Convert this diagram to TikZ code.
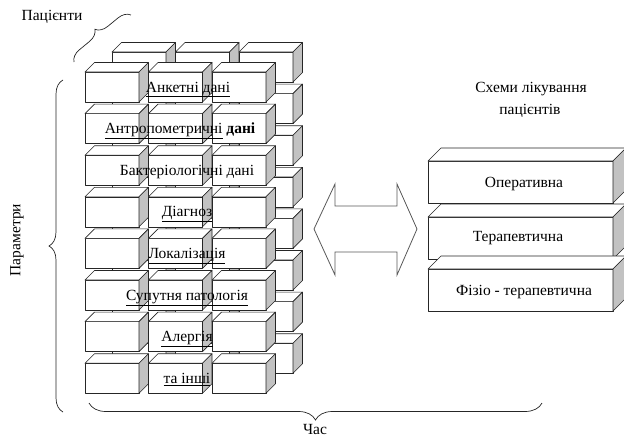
\documentclass[tikz,border=0pt]{standalone}
\usepackage{fontspec}
\setmainfont{Liberation Serif}
\usetikzlibrary{decorations.pathreplacing}

\tikzset{
  face/.style={draw=black!85, line width=0.6pt, line join=round, fill=white},
  sideface/.style={face, fill=black!24},
  lbl/.style={font=\fontsize{15.5}{18}\selectfont, inner sep=0pt, anchor=base},
  brc/.style={draw=black!85, line width=0.7pt, decorate,
              decoration={brace, amplitude=#1}},
  arrowshape/.style={draw=black!65, line width=0.8pt, line join=miter, fill=white},
}

% cuboid: #1,#2 top-left of front face, #3 width, #4 height, #5/#6 depth offsets
\newcommand\cuboid[6]{%
  \draw[face] (#1,#2) rectangle ++(#3,#4);
  \draw[face] (#1,#2) -- ++(#5,-#6) -- ++(#3,0) -- ++(-#5,#6) -- cycle;
  \draw[sideface] (#1+#3,#2) -- ++(#5,-#6) -- ++(0,#4) -- ++(-#5,#6) -- cycle;
}

\begin{document}
\begin{tikzpicture}[x=1pt,y=-1pt]
  \clip (0,0) rectangle (624,439);

  % back layer of the data block
  \foreach \c in {0,1,2} {
    \foreach \r in {0,...,7} {
      \pgfmathsetmacro\xx{112+63.5*\c}
      \pgfmathsetmacro\yy{52+41.6*\r}
      \cuboid{\xx}{\yy}{54}{30}{9.5}{9.5}
    }
  }
  % front layer of the data block
  \foreach \c in {0,1,2} {
    \foreach \r in {0,...,7} {
      \pgfmathsetmacro\xx{85+63.5*\c}
      \pgfmathsetmacro\yy{72+41.6*\r}
      \cuboid{\xx}{\yy}{54}{30}{9.5}{9.5}
    }
  }

  % parameter labels
  \node[lbl] (anket) at (188,92)    {\underline{Анкетні дані}};
  \node[lbl] (antro) at (180,133.5) {\underline{Антропометричні} \textbf{дані}};
  \node[lbl] (bakt)  at (187,175.2) {Бактеріологічні дані};
  \node[lbl] (diag)  at (187,216.8) {\underline{Діагноз}};
  \node[lbl] (lokal) at (187,258.4) {\underline{Локалізація}};
  \node[lbl] (patol) at (187,300)   {\underline{Супутня патологія}};
  \node[lbl] (alerg) at (187,341.6) {\underline{Алергія}};
  \node[lbl] (inshi) at (187,383.2) {\underline{та інші}};

  % treatment schemes
  \cuboid{428}{161}{185}{42}{13}{13}
  \cuboid{428}{217}{185}{42}{13}{13}
  \cuboid{428}{269}{185}{42}{13}{13}
  \node[lbl] (oper)  at (524,187) {Оперативна};
  \node[lbl] (terap) at (518,241) {Терапевтична};
  \node[lbl] (fizio) at (524,295) {Фізіо - терапевтична};

  \node[lbl] (schemes1) at (531,92)  {Схеми лікування};
  \node[lbl] (schemes2) at (530,114) {пацієнтів};

  % two-headed arrow between the blocks
  \draw[arrowshape] (314,229) -- (335,184) -- (335,206) -- (397,206)
    -- (397,184) -- (417,229) -- (397,275) -- (397,252) -- (335,252)
    -- (335,275) -- cycle;

  % axis braces and their labels
  \coordinate (pB) at (63,412);  \coordinate (pT) at (63,80);
  \coordinate (tR) at (542,403); \coordinate (tL) at (89,403);
  \coordinate (nA) at (74,62);   \coordinate (nB) at (131,15);
  \draw[brc=14] (pB) -- (pT);
  \draw[brc=17] (tR) -- (tL);
  \draw[brc=12] (nA) -- (nB);

  \node[lbl, anchor=center, rotate=90] (params) at (17,240) {Параметри};
  \node[lbl] (chas) at (315,434) {Час};
  \node[lbl] (pats) at (52,20) {Пацієнти};
\end{tikzpicture}
\end{document}
